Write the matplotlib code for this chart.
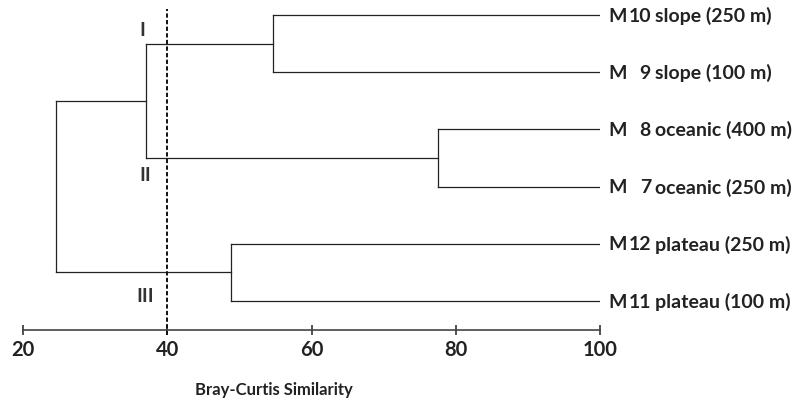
import matplotlib
matplotlib.use("Agg")
import matplotlib.pyplot as plt

# leaves listed top to bottom
leaf_codes = ["10", "9", "8", "7", "12", "11"]
leaf_types = ["slope", "slope", "oceanic", "oceanic", "plateau", "plateau"]
leaf_depths = ["(250 m)", "(100 m)", "(400 m)", "(250 m)", "(250 m)", "(100 m)"]

# linkage: (child a, child b, similarity); leaves are 0..5, new clusters 6, 7, ...
links = [
    (0, 1, 54.7),
    (2, 3, 77.6),
    (4, 5, 48.8),
    (6, 7, 37.1),
    (9, 8, 24.6),
]

group_names = ["I", "II", "III"]
group_pos = [(36.5, 5.75), (37.0, 3.22), (36.9, 1.10)]
cut_level = 40
x_ticks = [20, 40, 60, 80, 100]

plt.rcParams["font.family"] = ["Lato", "DejaVu Sans"]
line_col = "#222222"

fig = plt.figure(figsize=(8.06, 4.06), dpi=100)
ax = fig.add_axes([0.0285, 0.1847, 0.716, 0.8153])

n = len(leaf_codes)
ypos = {i: n - i for i in range(n)}
xpos = {i: 100 for i in range(n)}

for k, (a, b, h) in enumerate(links):
    node = n + k
    for c in (a, b):
        ax.plot([xpos[c], h], [ypos[c], ypos[c]], color=line_col, lw=0.9)
    ax.plot([h, h], [ypos[a], ypos[b]], color=line_col, lw=0.9)
    ypos[node] = (ypos[a] + ypos[b]) / 2
    xpos[node] = h

# cut line
ax.plot([cut_level, cut_level], [0.4, 6.1], color="#111111", lw=1.4,
        ls=(0, (2.2, 1.2)), clip_on=False)

for name, (gx, gy) in zip(group_names, group_pos):
    ax.text(gx, gy, name, ha="center", va="center", fontsize=14,
            fontweight="bold", color="#333333")

for i in range(n):
    y = ypos[i]
    ax.text(101.1, y, "M", ha="left", va="center", fontsize=14,
            fontweight="bold", color="#222222", clip_on=False)
    ax.text(107.05, y, leaf_codes[i], ha="right", va="center", fontsize=14,
            fontweight="bold", color="#222222", clip_on=False)
    ax.text(107.6, y, leaf_types[i] + " " + leaf_depths[i], ha="left",
            va="center", fontsize=14, fontweight="bold", color="#222222",
            clip_on=False)

ax.set_xlim(20, 100)
ax.set_ylim(0.493, 6.28)
for s in ["top", "right", "left"]:
    ax.spines[s].set_visible(False)
ax.spines["bottom"].set_color("#444444")
ax.spines["bottom"].set_linewidth(1.2)
ax.set_yticks([])
ax.set_xticks(x_ticks)
ax.tick_params(axis="x", direction="inout", length=7, width=1.2,
               color="#333333", labelsize=14.5, pad=3, labelcolor="#222222")
for lab in ax.get_xticklabels():
    lab.set_fontweight("bold")

ax.set_xlabel("Bray-Curtis Similarity", fontsize=12, fontweight="bold",
              color="#222222")
ax.xaxis.set_label_coords((274 - 23) / 577, -0.178)
ax.xaxis.label.set_va("center")

fig.savefig("out.png", dpi=100)
